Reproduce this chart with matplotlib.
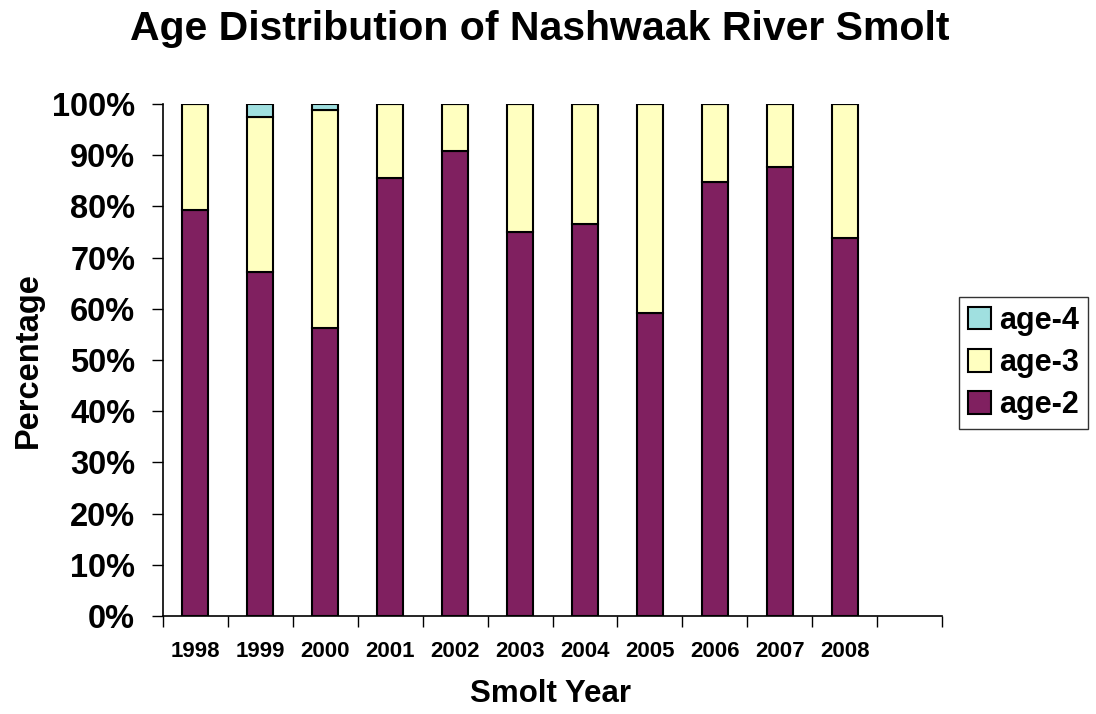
import numpy as np
import matplotlib
matplotlib.use('Agg')
import matplotlib.pyplot as plt

plt.rcParams['font.family'] = ['Liberation Sans', 'DejaVu Sans']
plt.rcParams['font.weight'] = 'bold'

# smolt age composition by year (percent of sample)
years = ['1998', '1999', '2000', '2001', '2002', '2003',
         '2004', '2005', '2006', '2007', '2008']
age2 = [79.3, 67.2, 56.3, 85.5, 90.8, 75.0, 76.6, 59.2, 84.8, 87.7, 73.8]
age4 = [0.0, 2.5, 1.1, 0.0, 0.0, 0.0, 0.0, 0.0, 0.0, 0.0, 0.0]
age3 = [100.0 - a - b for a, b in zip(age2, age4)]

col2 = '#802060'
col3 = '#FFFFC0'
col4 = '#A0E0E0'

fig = plt.figure(figsize=(10.96, 7.14), dpi=100)
ax = fig.add_axes([163/1096, 1 - 616/714, (942 - 163)/1096, (616 - 104)/714])

x = np.arange(len(years))
w = 0.4
b2 = ax.bar(x, age2, w, color=col2, edgecolor='black', linewidth=1.5, label='age-2')
b3 = ax.bar(x, age3, w, bottom=age2, color=col3, edgecolor='black',
            linewidth=1.5, label='age-3')
base4 = [a + b for a, b in zip(age2, age3)]
b4 = ax.bar(x, age4, w, bottom=base4, color=col4, edgecolor='black',
            linewidth=1.5, label='age-4')

# one empty slot after the last year, as on the category axis
ax.set_xlim(-0.5, len(years) + 0.5)
ax.set_ylim(0, 100)

ax.set_yticks(np.arange(0, 101, 10))
ax.set_yticklabels(['%d%%' % v for v in range(0, 101, 10)])
ax.tick_params(axis='y', direction='out', length=8, width=1, pad=12,
               labelsize=23.5)

ax.set_xticks(x)
ax.set_xticklabels(years)
ax.set_xticks(np.arange(-0.5, len(years) + 1, 1), minor=True)
ax.tick_params(axis='x', which='major', length=0, pad=18, labelsize=16)
ax.tick_params(axis='x', which='minor', direction='out', length=8, width=1)

for s in ['top', 'right']:
    ax.spines[s].set_visible(False)
ax.spines['left'].set_linewidth(1.2)
ax.spines['bottom'].set_linewidth(1.2)

fig.text(540/1096, 1 - 29/714, 'Age Distribution of Nashwaak River Smolt',
         ha='center', va='center', fontsize=29.5, fontweight='bold')
fig.text(28/1096, 1 - 360/714, 'Percentage', rotation=90,
         ha='center', va='center', fontsize=23.5, fontweight='bold')
fig.text(551/1096, 1 - 694/714, 'Smolt Year',
         ha='center', va='center', fontsize=22.5, fontweight='bold')

leg = fig.legend(handles=[b4, b3, b2], labels=['age-4', 'age-3', 'age-2'],
                 loc='center left', bbox_to_anchor=(959/1096, 1 - 363/714),
                 fontsize=22, frameon=True, fancybox=False, shadow=False,
                 handlelength=0.75, handleheight=0.75, handletextpad=0.25,
                 borderpad=0.3, labelspacing=0.4, borderaxespad=0)
leg.get_frame().set_edgecolor('black')
leg.get_frame().set_linewidth(1.0)

fig.savefig('out.png', dpi=100)
